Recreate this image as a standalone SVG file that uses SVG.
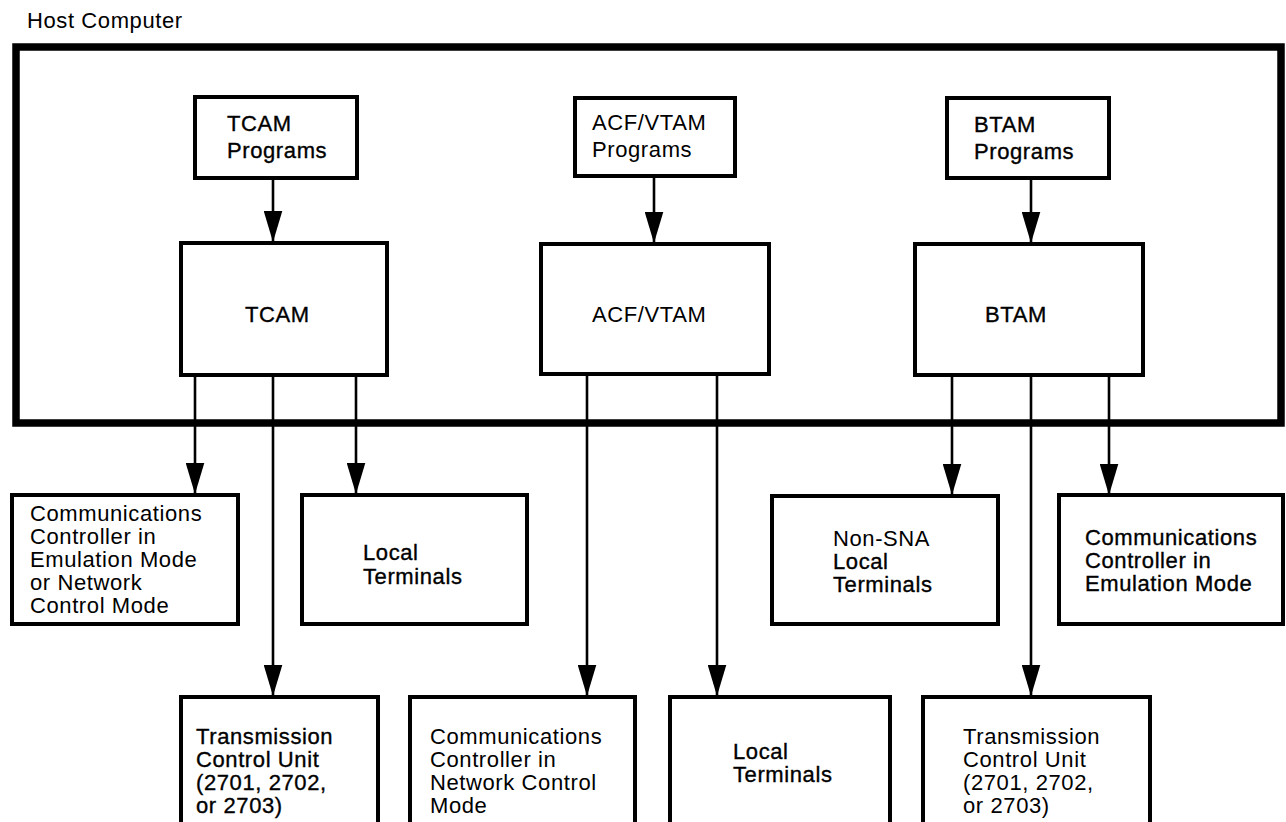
<svg xmlns="http://www.w3.org/2000/svg" width="1286" height="822" viewBox="0 0 1286 822">
  <style>
    .box { fill: #ffffff; stroke: #000000; stroke-width: 4; }
    .host { fill: none; stroke: #000000; stroke-width: 7.5; }
    .wire { fill: none; stroke: #000000; stroke-width: 2.6; marker-end: url(#head); }
    .lbl { font-family: "Liberation Sans", Arial, Helvetica, sans-serif; font-size: 22px; letter-spacing: 0.6px; fill: #000000; }
    .dark { stroke: #000000; stroke-width: 0.35; }
  </style>
  <defs>
    <marker id="head" viewBox="0 0 30 18" refX="29" refY="9" markerWidth="31" markerHeight="19" markerUnits="userSpaceOnUse" orient="auto">
      <path d="M0,0 L30,9 L0,18 Z" fill="#000000"/>
    </marker>
  </defs>

  <rect width="1286" height="822" fill="#ffffff"/>

  <!-- host computer frame -->
  <g id="host">
    <text class="lbl" x="27" y="28">Host Computer</text>
    <rect class="host" x="16" y="47" width="1265" height="376"/>
  </g>

  <!-- connectors -->
  <g id="connectors">
    <line class="wire" x1="273" y1="178" x2="273" y2="241"/>
    <line class="wire" x1="654" y1="176" x2="654" y2="242"/>
    <line class="wire" x1="1031" y1="178" x2="1031" y2="242"/>

    <line class="wire" x1="195" y1="375" x2="195" y2="493"/>
    <line class="wire" x1="273" y1="375" x2="273" y2="695"/>
    <line class="wire" x1="356" y1="375" x2="356" y2="493"/>

    <line class="wire" x1="587" y1="374" x2="587" y2="695"/>
    <line class="wire" x1="717" y1="374" x2="717" y2="695"/>

    <line class="wire" x1="952" y1="375" x2="952" y2="494"/>
    <line class="wire" x1="1031" y1="375" x2="1031" y2="695"/>
    <line class="wire" x1="1109" y1="375" x2="1109" y2="494"/>
  </g>

  <!-- application programs -->
  <g id="tcam-programs">
    <rect class="box" x="195" y="97" width="162" height="81"/>
    <text class="lbl dark" x="227" y="131">TCAM</text>
    <text class="lbl dark" x="227" y="158">Programs</text>
  </g>
  <g id="acfvtam-programs">
    <rect class="box" x="575" y="98" width="160" height="78"/>
    <text class="lbl" x="592" y="130">ACF/VTAM</text>
    <text class="lbl" x="592" y="157">Programs</text>
  </g>
  <g id="btam-programs">
    <rect class="box" x="947" y="98" width="162" height="80"/>
    <text class="lbl dark" x="974" y="132">BTAM</text>
    <text class="lbl dark" x="974" y="159">Programs</text>
  </g>

  <!-- access methods -->
  <g id="tcam">
    <rect class="box" x="181" y="243" width="206" height="132"/>
    <text class="lbl dark" x="245" y="322">TCAM</text>
  </g>
  <g id="acfvtam">
    <rect class="box" x="541" y="244" width="228" height="130"/>
    <text class="lbl" x="592" y="322">ACF/VTAM</text>
  </g>
  <g id="btam">
    <rect class="box" x="915" y="244" width="228" height="131"/>
    <text class="lbl dark" x="985" y="322">BTAM</text>
  </g>

  <!-- attached devices, first row -->
  <g id="cc-ep-ncp">
    <rect class="box" x="12" y="495" width="226" height="129"/>
    <text class="lbl" x="30" y="521">Communications</text>
    <text class="lbl" x="30" y="544">Controller in</text>
    <text class="lbl" x="30" y="567">Emulation Mode</text>
    <text class="lbl" x="30" y="590">or Network</text>
    <text class="lbl" x="30" y="613">Control Mode</text>
  </g>
  <g id="tcam-local">
    <rect class="box" x="302" y="495" width="225" height="129"/>
    <text class="lbl dark" x="363" y="560">Local</text>
    <text class="lbl dark" x="363" y="584">Terminals</text>
  </g>
  <g id="nonsna-local">
    <rect class="box" x="772" y="496" width="226" height="128"/>
    <text class="lbl" x="833" y="546">Non-SNA</text>
    <text class="lbl dark" x="833" y="569">Local</text>
    <text class="lbl dark" x="833" y="592">Terminals</text>
  </g>
  <g id="cc-ep">
    <rect class="box" x="1059" y="495" width="224" height="129"/>
    <text class="lbl dark" x="1085" y="545">Communications</text>
    <text class="lbl dark" x="1085" y="568">Controller in</text>
    <text class="lbl dark" x="1085" y="591">Emulation Mode</text>
  </g>

  <!-- attached devices, second row -->
  <g id="tcu-tcam">
    <rect class="box" x="181" y="697" width="197" height="140"/>
    <text class="lbl dark" x="196" y="744">Transmission</text>
    <text class="lbl dark" x="196" y="767">Control Unit</text>
    <text class="lbl dark" x="196" y="790">(2701, 2702,</text>
    <text class="lbl dark" x="196" y="813">or 2703)</text>
  </g>
  <g id="cc-ncp">
    <rect class="box" x="410" y="697" width="225" height="140"/>
    <text class="lbl" x="430" y="744">Communications</text>
    <text class="lbl" x="430" y="767">Controller in</text>
    <text class="lbl" x="430" y="790">Network Control</text>
    <text class="lbl" x="430" y="813">Mode</text>
  </g>
  <g id="vtam-local">
    <rect class="box" x="670" y="697" width="220" height="140"/>
    <text class="lbl dark" x="733" y="759">Local</text>
    <text class="lbl dark" x="733" y="782">Terminals</text>
  </g>
  <g id="tcu-btam">
    <rect class="box" x="923" y="697" width="227" height="140"/>
    <text class="lbl" x="963" y="744">Transmission</text>
    <text class="lbl" x="963" y="767">Control Unit</text>
    <text class="lbl" x="963" y="790">(2701, 2702,</text>
    <text class="lbl" x="963" y="813">or 2703)</text>
  </g>
</svg>
